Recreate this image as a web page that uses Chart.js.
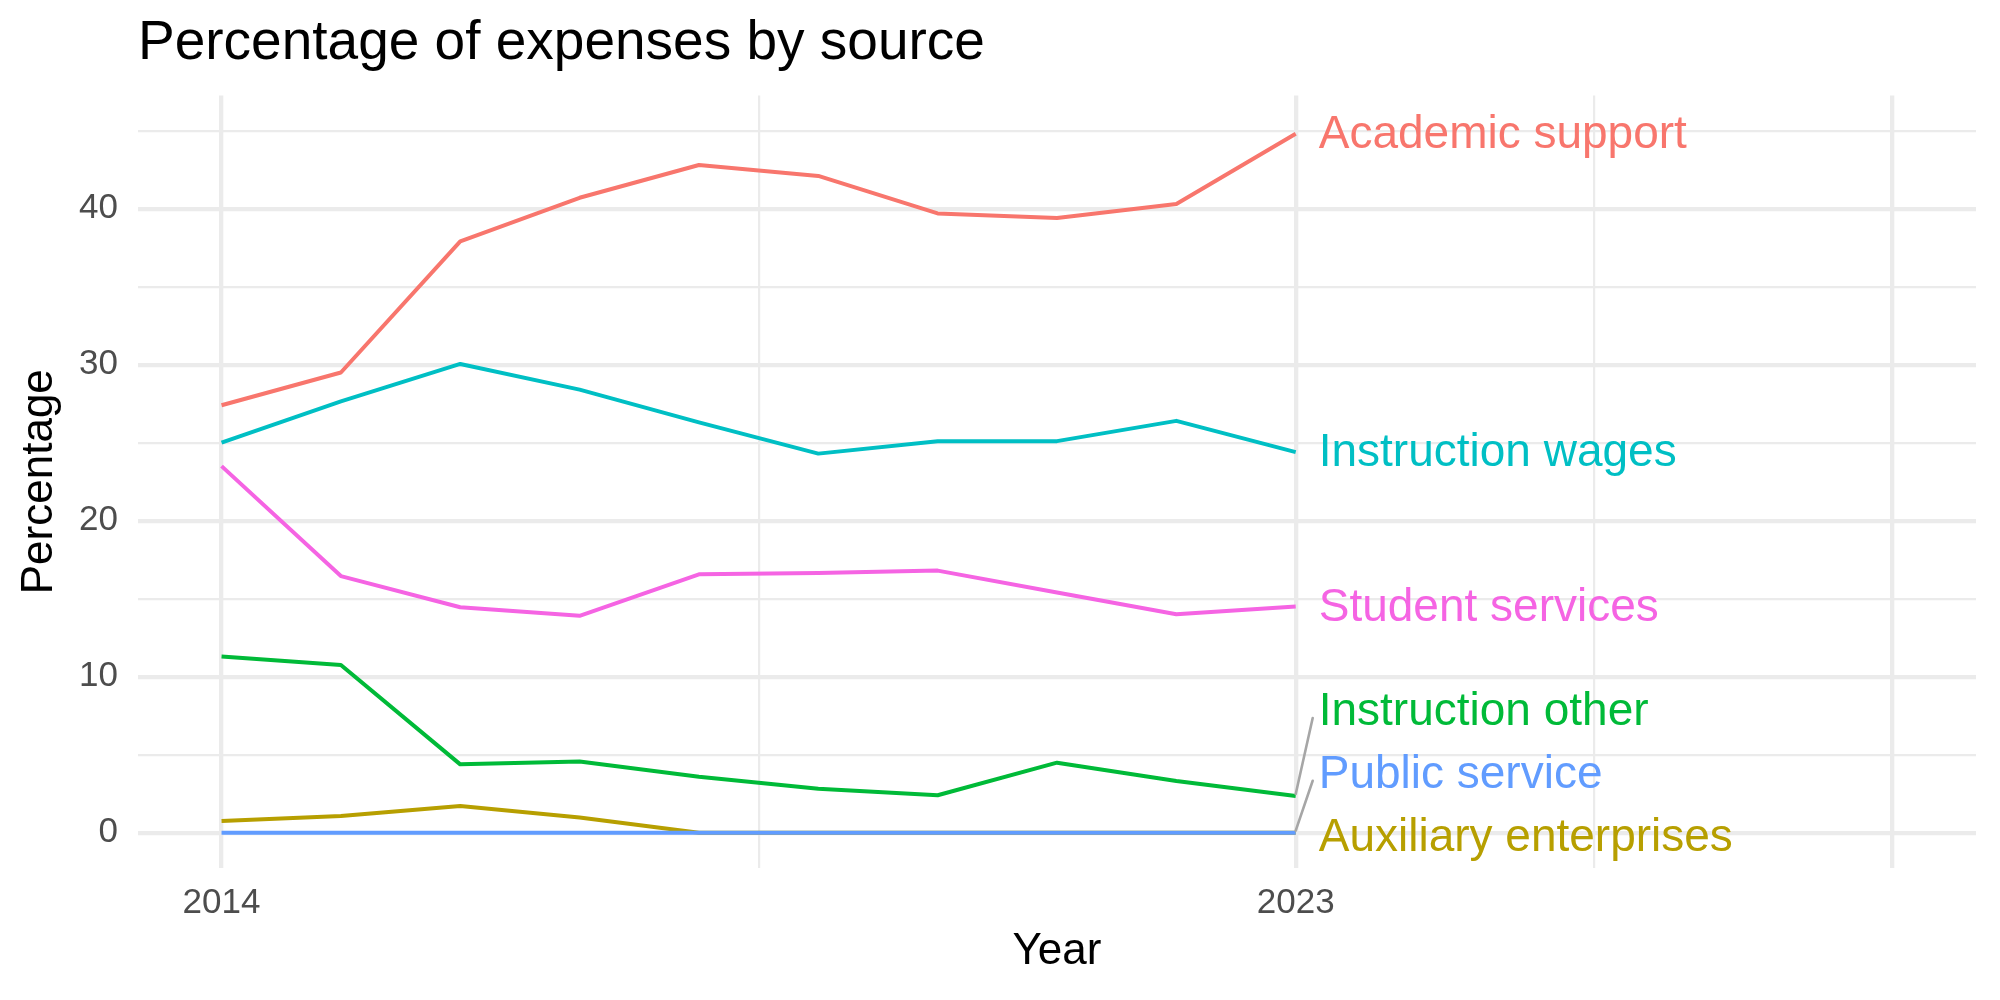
<!DOCTYPE html>
<html>
<head>
<meta charset="utf-8">
<script src="https://cdn.jsdelivr.net/npm/chart.js@4/dist/chart.umd.min.js"></script>
<style>
  html, body { margin: 0; padding: 0; background: #ffffff; }
  #wrap { width: 2000px; height: 1000px; }
</style>
</head>
<body>
<div id="wrap"><canvas id="c" width="2000" height="1000"></canvas></div>
<script>
// ---- data ----
const years = [2014, 2015, 2016, 2017, 2018, 2019, 2020, 2021, 2022, 2023];
const seriesNames = ["Academic support", "Auxiliary enterprises", "Instruction other",
                     "Instruction wages", "Public service", "Student services"];
const academicSupport      = [27.4, 29.5, 37.9, 40.7, 42.8, 42.1, 39.7, 39.4, 40.3, 44.8];
const auxiliaryEnterprises = [0.75, 1.07, 1.71, 0.98, 0, 0, 0, 0, 0, 0];
const instructionOther     = [11.3, 10.75, 4.38, 4.57, 3.59, 2.82, 2.4, 4.49, 3.31, 2.35];
const instructionWages     = [25.0, 27.65, 30.05, 28.4, 26.3, 24.3, 25.1, 25.1, 26.4, 24.4];
const publicService        = [0, 0, 0, 0, 0, 0, 0, 0, 0, 0];
const studentServices      = [23.5, 16.45, 14.45, 13.9, 16.56, 16.65, 16.8, 15.4, 14.0, 14.5];
const seriesValues = [academicSupport, auxiliaryEnterprises, instructionOther,
                      instructionWages, publicService, studentServices];
const seriesColors = ["#F8766D", "#B79F00", "#00BA38", "#00BFC4", "#619CFF", "#F564E3"];

const xMajorBreaks = [2014, 2023, 2028];
const xMinorBreaks = [2018.5, 2025.5];
const xTickLabels  = [2014, 2023];
const yMajorBreaks = [0, 10, 20, 30, 40];
const yMinorBreaks = [5, 15, 25, 35, 45];

const xLimits = [2013.3, 2028.7];
const yLimits = [-2.25, 47.25];

// ---- chart ----
const FONT = "'Liberation Sans', Arial, sans-serif";
Chart.defaults.font.family = FONT;

const datasets = seriesNames.map((name, i) => ({
  label: name,
  data: years.map((y, j) => ({ x: y, y: seriesValues[i][j] })),
  borderColor: seriesColors[i],
  backgroundColor: seriesColors[i],
  borderWidth: 4,
  pointRadius: 0,
  tension: 0,
  fill: false,
  borderJoinStyle: 'round',
  order: seriesNames.length - i
}));

const directLabels = {
  id: 'directLabels',
  afterDatasetsDraw(chart, args, opts) {
    const ctx = chart.ctx;
    const xs = chart.scales.x, ys = chart.scales.y;
    const area = chart.chartArea;
    const lastIdx = years.length - 1;
    const xp = xs.getPixelForValue(years[lastIdx]);
    const items = seriesNames.map((name, i) => {
      const py = ys.getPixelForValue(seriesValues[i][lastIdx]);
      return { name, i, py, ly: py };
    });
    // simple repel: push overlapping labels apart, keep inside panel
    const sorted = items.slice().sort((a, b) => (b.py - a.py) || (a.i - b.i));
    const half = opts.gap / 2;
    for (let iter = 0; iter < 400; iter++) {
      for (let k = 1; k < sorted.length; k++) {
        const lo = sorted[k - 1], hi = sorted[k];
        const overlap = opts.gap - (lo.ly - hi.ly);
        if (overlap > 0) { lo.ly += overlap / 2; hi.ly -= overlap / 2; }
      }
      sorted.forEach(it => {
        it.ly = Math.min(Math.max(it.ly, area.top + half), area.bottom - half);
      });
    }
    ctx.save();
    // segments
    ctx.strokeStyle = opts.segmentColor;
    ctx.lineWidth = opts.segmentWidth;
    ctx.lineCap = 'round';
    items.forEach(it => {
      if (Math.abs(it.ly - it.py) > opts.minSegment) {
        ctx.beginPath();
        ctx.moveTo(xp, it.py - 2);
        ctx.lineTo(xp + opts.segmentDx, it.ly + opts.segmentDy);
        ctx.stroke();
      }
    });
    // text
    ctx.font = opts.fontSize + 'px ' + FONT;
    ctx.textAlign = 'left';
    ctx.textBaseline = 'middle';
    items.forEach(it => {
      ctx.fillStyle = seriesColors[it.i];
      ctx.fillText(it.name, xp + opts.dx, it.ly + opts.dy);
    });
    ctx.restore();
  }
};

new Chart(document.getElementById('c'), {
  type: 'line',
  data: { datasets },
  plugins: [directLabels],
  options: {
    responsive: false,
    animation: false,
    devicePixelRatio: 1,
    layout: { padding: { left: 0, right: 24, top: 0, bottom: 0 } },
    plugins: {
      legend: { display: false },
      tooltip: { enabled: false },
      title: {
        display: true,
        text: 'Percentage of expenses by source',
        align: 'start',
        fullSize: false,
        color: '#000000',
        font: { size: 55, weight: 'normal', family: FONT },
        padding: { top: 11.2, bottom: 18.4 }
      },
      directLabels: {
        gap: 62.7, dx: 23, dy: 1.5, fontSize: 46,
        segmentColor: '#A6A6A6', segmentWidth: 2.6,
        segmentDx: 17, segmentDy: 7, minSegment: 25
      }
    },
    scales: {
      x: {
        type: 'linear',
        min: xLimits[0], max: xLimits[1],
        afterBuildTicks: (s) => {
          s.ticks = xMajorBreaks.concat(xMinorBreaks).sort((a, b) => a - b).map(v => ({ value: v }));
        },
        afterFit: (s) => { s.height = 132.2; },
        grid: {
          drawTicks: false,
          color: '#EBEBEB',
          lineWidth: (c) => (c.tick && xMajorBreaks.includes(c.tick.value)) ? 4.3 : 2.2
        },
        border: { display: false },
        ticks: {
          autoSkip: false, maxRotation: 0, padding: 14.1,
          color: '#4D4D4D',
          font: { size: 35, family: FONT },
          callback: (v) => xTickLabels.includes(v) ? String(v) : ''
        },
        title: {
          display: true, text: 'Year', color: '#000000',
          font: { size: 44, family: FONT },
          padding: { top: 0, bottom: 21.5 }
        }
      },
      y: {
        type: 'linear',
        min: yLimits[0], max: yLimits[1],
        afterBuildTicks: (s) => {
          s.ticks = yMajorBreaks.concat(yMinorBreaks).sort((a, b) => a - b).map(v => ({ value: v }));
        },
        afterFit: (s) => { s.width = 138; },
        grid: {
          drawTicks: false,
          color: '#EBEBEB',
          lineWidth: (c) => (c.tick && yMajorBreaks.includes(c.tick.value)) ? 4.3 : 2.2
        },
        border: { display: false },
        ticks: {
          autoSkip: false, padding: 20,
          color: '#4D4D4D',
          font: { size: 35, family: FONT },
          callback: (v) => yMajorBreaks.includes(v) ? String(v) : ''
        },
        title: {
          display: true, text: 'Percentage', color: '#000000',
          font: { size: 44, family: FONT },
          padding: { top: 13.4, bottom: 0 }
        }
      }
    }
  }
});
</script>
</body>
</html>
